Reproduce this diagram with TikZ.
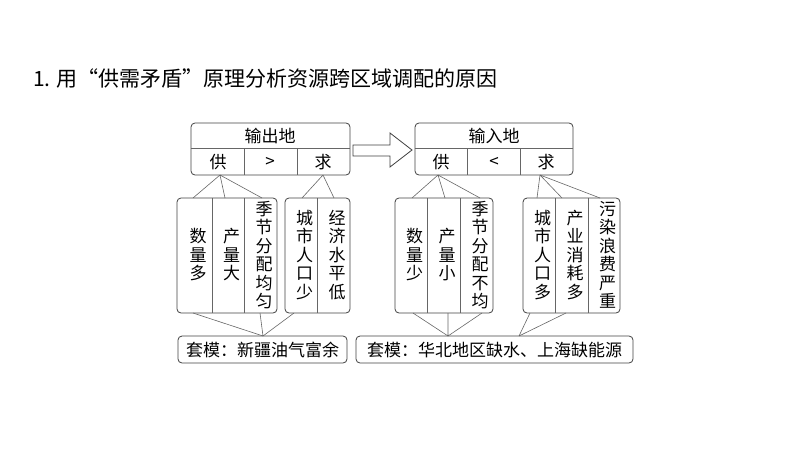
\documentclass[tikz,border=0pt]{standalone}
\usepackage{fontspec}
\setmainfont{Noto Sans CJK SC}
\begin{document}
\begin{tikzpicture}[x=1pt,y=-1pt,
  bx/.style={draw=black!75,line width=0.8pt,rounded corners=4pt},
  ln/.style={draw=black!60,line width=0.6pt},
  vt/.style={font=\fontsize{17}{18.5}\selectfont,align=center,text width=1em,inner sep=0pt},
  ht/.style={font=\fontsize{17}{19}\selectfont,inner sep=0pt}]
\useasboundingbox (0,0) rectangle (800,450);
\node[anchor=west,font=\fontsize{21}{24}\selectfont,inner sep=0pt] (title) at (33,78) {1. 用“供需矛盾”原理分析资源跨区域调配的原因};
% top boxes
\draw[bx] (191,123) rectangle (350,175);
\draw[ln] (191,148) -- (350,148) (244,148) -- (244,175) (297,148) -- (297,175);
\node[ht] (o) at (270,136) {输出地};
\node[ht] (og) at (218,162) {供};
\node[ht] (oc) at (270,162) {>};
\node[ht] (oq) at (323,162) {求};
\draw[bx] (415,123) rectangle (573,175);
\draw[ln] (415,148) -- (573,148) (467,148) -- (467,175) (520,148) -- (520,175);
\node[ht] (i) at (494,136) {输入地};
\node[ht] (ig) at (441,162) {供};
\node[ht] (ic) at (494,162) {<};
\node[ht] (iq) at (546,162) {求};
% arrow
\draw[draw=black!75,line width=0.8pt,fill=white] (353,145) -- (390,145) -- (390,133) -- (412,150) -- (390,167) -- (390,156) -- (353,156) -- cycle;
% lower boxes
\draw[bx] (177,198) rectangle (277,313);
\draw[ln] (212,198) -- (212,313) (244,198) -- (244,313);
\node[vt] (a1) at (194.5,255) {数\\量\\多};
\node[vt] (a2) at (228,255) {产\\量\\大};
\node[vt] (a3) at (260.5,255) {季\\节\\分\\配\\均\\匀};
\draw[bx] (285,198) rectangle (350,313);
\draw[ln] (317,198) -- (317,313);
\node[vt] (b1) at (301,255) {城\\市\\人\\口\\少};
\node[vt] (b2) at (333.5,255) {经\\济\\水\\平\\低};
\draw[bx] (395,198) rectangle (493,313);
\draw[ln] (427,198) -- (427,313) (460,198) -- (460,313);
\node[vt] (c1) at (411,255) {数\\量\\少};
\node[vt] (c2) at (443.5,255) {产\\量\\小};
\node[vt] (c3) at (476.5,255) {季\\节\\分\\配\\不\\均};
\draw[bx] (523,198) rectangle (620,313);
\draw[ln] (555,198) -- (555,313) (588,198) -- (588,313);
\node[vt] (d1) at (539,255) {城\\市\\人\\口\\多};
\node[vt] (d2) at (571.5,255) {产\\业\\消\\耗\\多};
\node[vt] (d3) at (604,255) {污\\染\\浪\\费\\严\\重};
% bottom boxes
\draw[bx] (178,336) rectangle (347,363);
\node[ht] (s1) at (262.5,350) {套模：新疆油气富余};
\draw[bx] (356,336) rectangle (633,363);
\node[ht] (s2) at (494.5,350) {套模：华北地区缺水、上海缺能源};
% connectors top
\draw[ln] (220,175) -- (193,198) (220,175) -- (225,198) (220,175) -- (262,198);
\draw[ln] (323,175) -- (302,198) (323,175) -- (334,198);
\draw[ln] (438,175) -- (412,198) (438,175) -- (445,198) (438,175) -- (480,198);
\draw[ln] (540,175) -- (537,198) (540,175) -- (562,198) (540,175) -- (600,198);
% connectors bottom
\draw[ln] (193,313) -- (263,336) (260,313) -- (263,336) (294,313) -- (263,336);
\draw[ln] (413,313) -- (448,336) (448,313) -- (448,336) (482,313) -- (448,336);
\draw[ln] (530,313) -- (519,336) (566,313) -- (519,336);
\end{tikzpicture}
\end{document}
